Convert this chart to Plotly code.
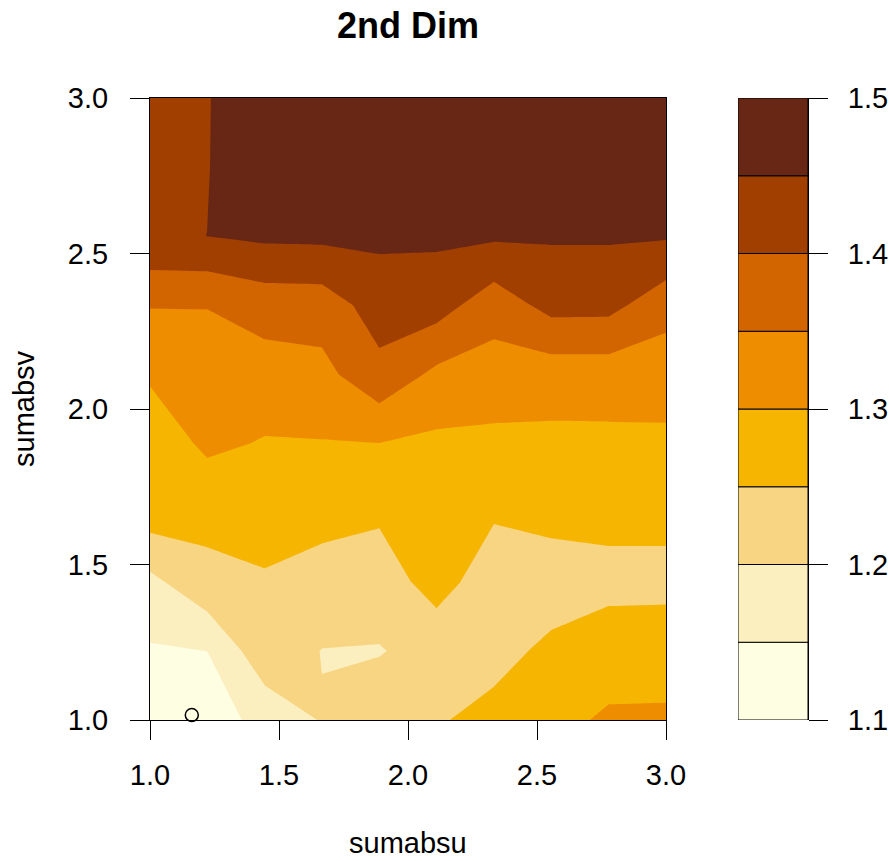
import plotly.graph_objects as go

# ---- data ----
sumabsu = [1.0, 1.2222, 1.4444, 1.6667, 1.8889, 2.1111, 2.3333, 2.5556, 2.7778, 3.0]
sumabsv = [1.0, 1.2222, 1.4444, 1.6667, 1.8889, 2.1111, 2.3333, 2.5556, 2.7778, 3.0]

# z rows: one row per sumabsv value, columns follow sumabsu
z_row0 = [1.120, 1.126, 1.166, 1.203, 1.2327, 1.2458, 1.264, 1.280, 1.3097, 1.312]
z_row1 = [1.145, 1.1502, 1.2335, 1.1985, 1.197, 1.2203, 1.235, 1.260, 1.267, 1.264]
z_row2 = [1.187, 1.238, 1.243, 1.240, 1.227, 1.2684, 1.2244, 1.2269, 1.2408, 1.2432]
z_row3 = [1.276, 1.262, 1.279, 1.258, 1.2567, 1.275, 1.255, 1.2636, 1.2586, 1.2563]
z_row4 = [1.268, 1.310, 1.2966, 1.2977, 1.2995, 1.2899, 1.288, 1.2888, 1.2892, 1.2904]
z_row5 = [1.3066, 1.325, 1.3275, 1.335, 1.3861, 1.3387, 1.3289, 1.3228, 1.3233, 1.3222]
z_row6 = [1.352, 1.3515, 1.3718, 1.3735, 1.4225, 1.4216, 1.3704, 1.4163, 1.4152, 1.3684]
z_row7 = [1.446, 1.4501, 1.4592, 1.4608, 1.4596, 1.4584, 1.4569, 1.4549, 1.4551, 1.4548]
z_row8 = [1.440, 1.449, 1.470, 1.480, 1.478, 1.475, 1.472, 1.470, 1.468, 1.466]
z_row9 = [1.430, 1.448, 1.480, 1.490, 1.488, 1.485, 1.482, 1.480, 1.478, 1.476]
z_grid = [z_row0, z_row1, z_row2, z_row3, z_row4, z_row5, z_row6, z_row7, z_row8, z_row9]

levels = [1.10, 1.15, 1.20, 1.25, 1.30, 1.35, 1.40, 1.45, 1.50]
band_colors = ["#FEFEE3", "#FBEFBF", "#F8D583", "#F5B500",
               "#EE8D00", "#D26500", "#A13F00", "#682714"]

point_x = [1.162]
point_y = [1.016]

axis_ticks = [1.0, 1.5, 2.0, 2.5, 3.0]
axis_ticktext = ["1.0", "1.5", "2.0", "2.5", "3.0"]
cbar_ticks = [1.1, 1.2, 1.3, 1.4, 1.5]
cbar_ticktext = ["1.1", "1.2", "1.3", "1.4", "1.5"]

# ---- layout geometry ----
W, H = 889, 861
ML, MR, MT, MB = 150, 81, 98, 141
PW = W - ML - MR
PH = H - MT - MB
main_right = 666
cbar_left = 738

# stepped colorscale so every band gets exactly one colour
n = len(band_colors)
cs = []
for k, c in enumerate(band_colors):
    lo = 0.0 if k == 0 else (k + 0.5) / (n + 1)
    hi = 1.0 if k == n - 1 else (k + 1.5) / (n + 1)
    cs.append([lo, c])
    cs.append([hi, c])

FONT = "Liberation Sans, Arial, Helvetica, sans-serif"

fig = go.Figure()
fig.add_trace(go.Contour(
    x=sumabsu, y=sumabsv, z=z_grid,
    contours=dict(start=levels[0], end=levels[-1], size=0.05,
                  coloring="fill", showlines=False),
    line=dict(width=0, smoothing=0),
    colorscale=cs, showscale=False,
    xaxis="x", yaxis="y", hoverinfo="skip",
))
fig.add_trace(go.Scatter(
    x=point_x, y=point_y, mode="markers",
    marker=dict(symbol="circle-open", size=13, color="black",
                line=dict(width=1.5, color="black")),
    xaxis="x", yaxis="y", showlegend=False, cliponaxis=False,
))
fig.add_trace(go.Bar(
    x=[0] * n, y=[levels[i + 1] - levels[i] for i in range(n)],
    base=levels[:-1], width=1.0,
    marker=dict(color=band_colors, line=dict(color="black", width=1)),
    xaxis="x2", yaxis="y2", showlegend=False, hoverinfo="skip",
))

axis_common = dict(
    ticks="outside", ticklen=19, tickwidth=1, tickcolor="black",
    showline=True, linecolor="black", linewidth=1,
    showgrid=False, zeroline=False, automargin=False,
    tickfont=dict(family=FONT, size=29, color="black"),
)

fig.update_layout(
    width=W, height=H,
    margin=dict(l=ML, r=MR, t=MT, b=MB, pad=0, autoexpand=False),
    paper_bgcolor="white", plot_bgcolor="white",
    showlegend=False, barmode="overlay",
    xaxis=dict(domain=[0, (main_right - ML) / PW], range=[1, 3],
               tickvals=axis_ticks, ticktext=axis_ticktext, mirror=True,
               anchor="y", ticklabelstandoff=10, **axis_common),
    yaxis=dict(domain=[0, 1], range=[1, 3],
               tickvals=axis_ticks, ticktext=axis_ticktext, mirror=True,
               anchor="x", ticklabelstandoff=16, **axis_common),
    xaxis2=dict(domain=[(cbar_left - ML) / PW, 1], range=[-0.5, 0.5],
                visible=False, anchor="y2", automargin=False),
    yaxis2=dict(domain=[0, 1], range=[1.1, 1.5], anchor="x2", side="right",
                tickvals=cbar_ticks, ticktext=cbar_ticktext,
                ticklabelstandoff=14, **axis_common),
    title=dict(text="2nd Dim", x=(408 - ML) / PW, xref="paper", xanchor="center",
               y=1 - 25 / H, yref="container", yanchor="middle",
               font=dict(family=FONT, size=36, color="black", weight="bold")),
    annotations=[
        dict(text="sumabsu", x=(408 - ML) / PW, y=(H - MB - H) / PH,
             xref="paper", yref="paper", showarrow=False,
             xanchor="center", yanchor="bottom",
             font=dict(family=FONT, size=29, color="black")),
        dict(text="sumabsv", x=(24 - ML) / PW, y=0.5,
             xref="paper", yref="paper", showarrow=False, textangle=-90,
             xanchor="center", yanchor="middle",
             font=dict(family=FONT, size=29, color="black")),
    ],
)

fig.write_html("out.html")
